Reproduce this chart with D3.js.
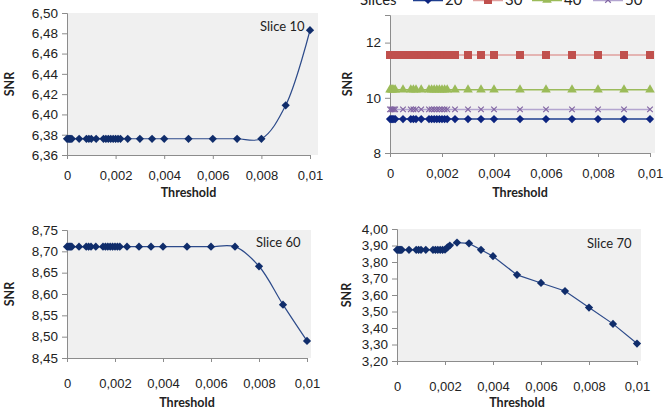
<!DOCTYPE html>
<html>
<head>
<meta charset="utf-8">
<script src="https://cdnjs.cloudflare.com/ajax/libs/d3/7.8.5/d3.min.js"></script>
<style>
  body { margin: 0; background: #fff; }
  svg { font-family: Lato, "Open Sans", sans-serif; }
</style>
</head>
<body>
<script>
// data
const thresholds = [0, 0.00005, 0.0001, 0.00015, 0.0002, 0.0005, 0.0008, 0.0009, 0.001, 0.0012,
  0.0015, 0.0016, 0.0017, 0.0018, 0.0019, 0.002, 0.0021, 0.0022, 0.0025, 0.003,
  0.0035, 0.004, 0.005, 0.006, 0.007, 0.008, 0.009, 0.01];

const xTicks = [0, 0.002, 0.004, 0.006, 0.008, 0.01];

const slice10 = [6.376, 6.376, 6.376, 6.376, 6.376, 6.376, 6.376, 6.376, 6.376, 6.376,
  6.376, 6.376, 6.376, 6.376, 6.376, 6.376, 6.376, 6.376, 6.376, 6.376,
  6.376, 6.376, 6.376, 6.376, 6.376, 6.376, 6.409, 6.483];

const slice60 = [8.711, 8.711, 8.711, 8.711, 8.711, 8.711, 8.711, 8.711, 8.711, 8.711,
  8.711, 8.711, 8.711, 8.711, 8.711, 8.711, 8.711, 8.711, 8.711, 8.711,
  8.711, 8.711, 8.711, 8.711, 8.711, 8.665, 8.575, 8.490];

const slice70 = [3.874, 3.874, 3.874, 3.874, 3.874, 3.874, 3.874, 3.874, 3.874, 3.874,
  3.874, 3.874, 3.874, 3.874, 3.874, 3.875, 3.888, 3.900, 3.918, 3.913,
  3.874, 3.835, 3.722, 3.673, 3.624, 3.524, 3.425, 3.306];

const slices20 = [9.23, 9.23, 9.23, 9.23, 9.23, 9.23, 9.23, 9.23, 9.23, 9.23,
  9.23, 9.23, 9.23, 9.23, 9.23, 9.23, 9.23, 9.23, 9.23, 9.23,
  9.23, 9.23, 9.23, 9.23, 9.23, 9.23, 9.23, 9.23];
const slices30 = [11.55, 11.55, 11.55, 11.55, 11.55, 11.55, 11.55, 11.55, 11.55, 11.55,
  11.55, 11.55, 11.55, 11.55, 11.55, 11.55, 11.55, 11.55, 11.55, 11.55,
  11.55, 11.55, 11.55, 11.55, 11.55, 11.55, 11.55, 11.55];
const slices40 = [10.29, 10.29, 10.29, 10.29, 10.29, 10.29, 10.29, 10.29, 10.29, 10.29,
  10.29, 10.29, 10.29, 10.29, 10.29, 10.29, 10.29, 10.29, 10.29, 10.29,
  10.29, 10.29, 10.29, 10.29, 10.29, 10.29, 10.29, 10.29];
const slices50 = [9.58, 9.58, 9.58, 9.58, 9.58, 9.58, 9.58, 9.58, 9.58, 9.58,
  9.58, 9.58, 9.58, 9.58, 9.58, 9.58, 9.58, 9.58, 9.58, 9.58,
  9.58, 9.58, 9.58, 9.58, 9.58, 9.58, 9.58, 9.58];

const legendLabels = ["20", "30", "40", "50"];

const svg = d3.select("body").append("svg")
  .attr("width", 665)
  .attr("height", 414);

const navy = "#102d6b";
const fmt = (dec) => (v) => v === 0 && dec === -1 ? "0" : d3.format("." + dec + "f")(v).replace(".", ",");
const fmtX = (v) => (v === 0 ? "0" : String(+v.toFixed(3)).replace(".", ","));

// markers
const diamond = d3.symbol().type(d3.symbolSquare).size(34);
const square = d3.symbol().type(d3.symbolSquare).size(64);
const triangle = d3.symbol().type(d3.symbolTriangle).size(40);
const cross = d3.symbol().type(d3.symbolX).size(22);

function panel(p) {
  const g = svg.append("g");
  const x = d3.scaleLinear().domain([0, 0.01]).range([p.left, p.right]);
  const y = d3.scaleLinear().domain(p.yDomain).range([p.bottom, p.top]);

  // plot background
  g.append("rect")
    .attr("x", p.left).attr("y", p.top)
    .attr("width", p.bgRight - p.left).attr("height", p.bottom - p.top)
    .attr("fill", "#f0f0f0");

  // y axis
  const ya = g.append("g")
    .attr("transform", `translate(${p.left},0)`)
    .call(d3.axisLeft(y).tickValues(p.yTicks).tickFormat(p.yFmt).tickSize(5).tickPadding(4));
  // x axis
  const xa = g.append("g")
    .attr("transform", `translate(0,${p.bottom})`)
    .call(d3.axisBottom(x).tickValues(xTicks).tickFormat(fmtX).tickSize(4).tickPadding(p.xPad));
  [ya, xa].forEach(a => {
    a.select(".domain").attr("stroke", "#8c8c8c");
    a.selectAll(".tick line").attr("stroke", "#8c8c8c");
    a.selectAll("text").attr("font-size", 13).attr("fill", "#222");
  });
  ya.selectAll("text").attr("font-size", 13.5);

  // axis titles
  g.append("text")
    .attr("x", (p.left + p.right) / 2).attr("y", p.titleY)
    .attr("text-anchor", "middle")
    .attr("font-size", 12.5).attr("font-weight", "bold").attr("fill", "#222")
    .text("Threshold");
  g.append("text")
    .attr("transform", `translate(${p.snrX},${(p.top + p.bottom) / 2}) rotate(-90)`)
    .attr("text-anchor", "middle")
    .attr("font-size", 12.5).attr("font-weight", "bold").attr("fill", "#222")
    .text("SNR");

  p.series.forEach(s => {
    const pts = thresholds.map((t, i) => [t, s.values[i]]);
    g.append("path")
      .datum(pts)
      .attr("fill", "none")
      .attr("stroke", s.line)
      .attr("stroke-width", s.width || 1.2)
      .attr("d", d3.line().x(d => x(d[0])).y(d => y(d[1])).curve(s.curve || d3.curveLinear));
    g.selectAll(null).data(pts).join("path")
      .attr("d", s.symbol)
      .attr("transform", d => `translate(${x(d[0])},${y(d[1])}) rotate(${s.rot || 0})`)
      .attr("fill", s.fill)
      .attr("stroke", s.stroke || "none")
      .attr("stroke-width", s.strokeW || 0);
  });

  if (p.label) {
    g.append("text")
      .attr("x", p.label[0]).attr("y", p.label[1])
      .attr("font-size", 13).attr("fill", "#222")
      .text(p.label[2]);
  }
  return g;
}

// Slice 10
panel({
  left: 67, right: 310, bgRight: 318, top: 13, bottom: 155,
  yDomain: [6.36, 6.50], yTicks: [6.36, 6.38, 6.40, 6.42, 6.44, 6.46, 6.48, 6.50], yFmt: fmt(2),
  xPad: 12, titleY: 197, snrX: 14,
  label: [260, 31, "Slice 10"],
  series: [{ values: slice10, line: "#2c4a8a", symbol: diamond, rot: 45, fill: navy, curve: d3.curveCatmullRom.alpha(0.5) }]
});

// Slices 20-50
panel({
  left: 390, right: 650, bgRight: 655, top: 15, bottom: 153,
  yDomain: [8, 13], yTicks: [8, 10, 12], yFmt: d3.format("d"),
  xPad: 12, titleY: 197, snrX: 352,
  series: [
    { values: slices30, line: "#e0a09e", symbol: square, fill: "#c0504d", width: 1.5 },
    { values: slices40, line: "#9bbb59", symbol: triangle, fill: "#9bbb59", width: 1.5 },
    { values: slices50, line: "#b3a5d0", symbol: cross, fill: "none", stroke: "#8064a2", strokeW: 1.2, width: 1.5 },
    { values: slices20, line: "#1f3f8f", symbol: diamond, rot: 45, fill: "#0d2580", width: 1.5 }
  ]
});

// legend (partly cut off at the top)
const legend = svg.append("g").attr("font-size", 15).attr("fill", "#222");
legend.append("text").attr("x", 360).attr("y", 5).text("Slices");
const legendItems = [
  { x: 413, line: "#1f3f8f", symbol: diamond, rot: 45, fill: "#0d2580" },
  { x: 473, line: "#e0a09e", symbol: square, fill: "#c0504d" },
  { x: 532, line: "#9bbb59", symbol: triangle, fill: "#9bbb59" },
  { x: 593, line: "#b3a5d0", symbol: cross, fill: "none", stroke: "#8064a2" }
];
legendItems.forEach((it, i) => {
  legend.append("line")
    .attr("x1", it.x).attr("x2", it.x + 30).attr("y1", 0).attr("y2", 0)
    .attr("stroke", it.line).attr("stroke-width", 2.5);
  legend.append("path")
    .attr("d", it.symbol)
    .attr("transform", `translate(${it.x + 15},0) rotate(${it.rot || 0})`)
    .attr("fill", it.fill).attr("stroke", it.stroke || "none").attr("stroke-width", 1.2);
  legend.append("text").attr("x", it.x + 32).attr("y", 5).text(legendLabels[i]);
});

// Slice 60
panel({
  left: 67, right: 307, bgRight: 311, top: 230, bottom: 358,
  yDomain: [8.45, 8.75], yTicks: [8.45, 8.50, 8.55, 8.60, 8.65, 8.70, 8.75], yFmt: fmt(2),
  xPad: 17, titleY: 407, snrX: 14,
  label: [256, 247, "Slice 60"],
  series: [{ values: slice60, line: "#2c4a8a", symbol: diamond, rot: 45, fill: navy, curve: d3.curveCatmullRom.alpha(0.5) }]
});

// Slice 70
panel({
  left: 397, right: 637, bgRight: 641, top: 229, bottom: 361,
  yDomain: [3.2, 4.0], yTicks: [3.2, 3.3, 3.4, 3.5, 3.6, 3.7, 3.8, 3.9, 4.0], yFmt: fmt(2),
  xPad: 17, titleY: 407, snrX: 351,
  label: [587, 248, "Slice 70"],
  series: [{ values: slice70, line: "#2c4a8a", symbol: diamond, rot: 45, fill: navy }]
});
</script>
</body>
</html>
